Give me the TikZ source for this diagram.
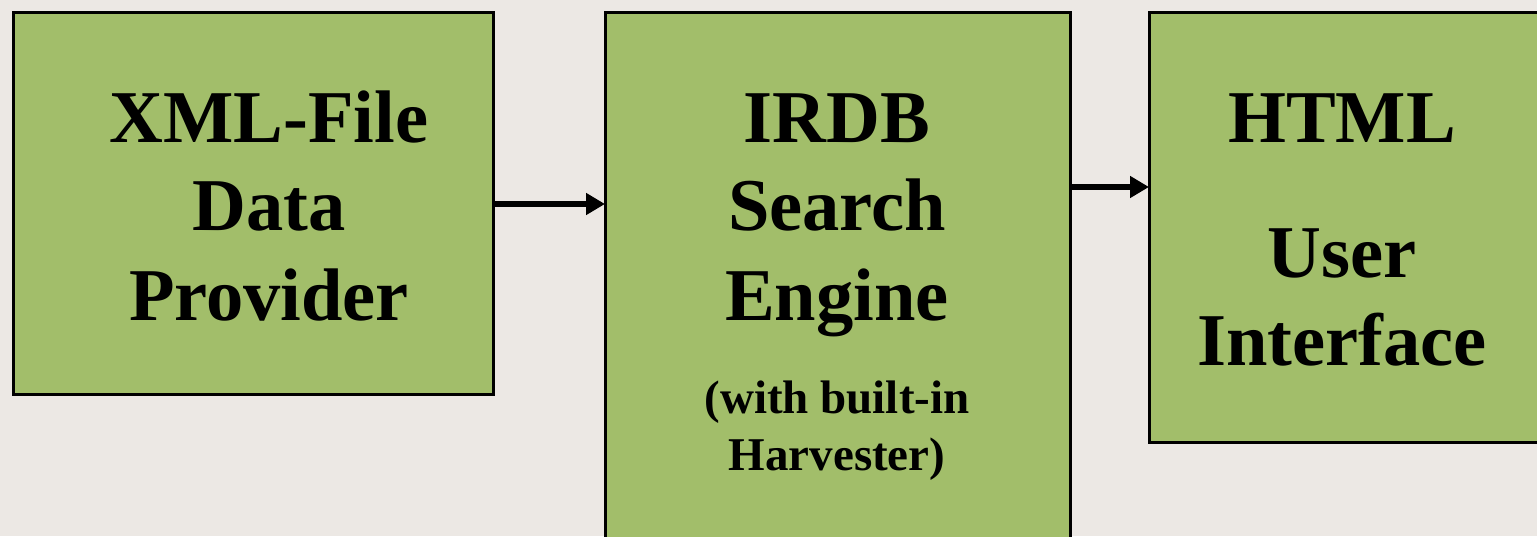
\documentclass[tikz,border=0pt]{standalone}
\usepackage{fontspec}
\setmainfont{Liberation Serif}
\usetikzlibrary{arrows.meta}
\definecolor{bgc}{HTML}{ECE8E4}
\definecolor{boxg}{HTML}{A2BE6A}
\tikzset{
  box/.style={draw=black, line width=3pt, fill=boxg, rectangle, inner sep=0pt, outer sep=0pt},
  big/.style={anchor=base, inner sep=0pt, font=\fontsize{74.5}{89}\selectfont\bfseries},
  small/.style={anchor=base, inner sep=0pt, font=\fontsize{47}{57}\selectfont\bfseries},
  arr/.style={line width=5.5pt, -{Triangle[length=19pt,width=21pt]}}
}
\begin{document}
\begin{tikzpicture}[x=1pt,y=-1pt]
\fill[bgc] (0,0) rectangle (1537,536);
\useasboundingbox (0,0) rectangle (1537,536);
\clip (0,0) rectangle (1537,536);
\node[box, minimum width=480pt, minimum height=382pt] (b1) at (253,203) {};
\node[box, minimum width=465pt, minimum height=540pt] (b2) at (837.5,282) {};
\node[box, minimum width=400pt, minimum height=430pt] (b3) at (1349,227) {};
\node[big] (t1a) at (269,142) {XML-File};
\node[big] (t1b) at (269,230) {Data};
\node[big] (t1c) at (269,320) {Provider};
\node[big] (t2a) at (837,142) {IRDB};
\node[big] (t2b) at (837,230) {Search};
\node[big] (t2c) at (837,320) {Engine};
\node[small] (t2d) at (837,413) {(with built-in};
\node[small] (t2e) at (837,470) {Harvester)};
\node[big] (t3a) at (1342,142) {HTML};
\node[big] (t3b) at (1342,277) {User};
\node[big] (t3c) at (1342,365) {Interface};
\draw[arr] (b1.east |- 0,204) -- (b2.west |- 0,204);
\draw[arr] (b2.east |- 0,187) -- (b3.west |- 0,187);
\end{tikzpicture}
\end{document}
